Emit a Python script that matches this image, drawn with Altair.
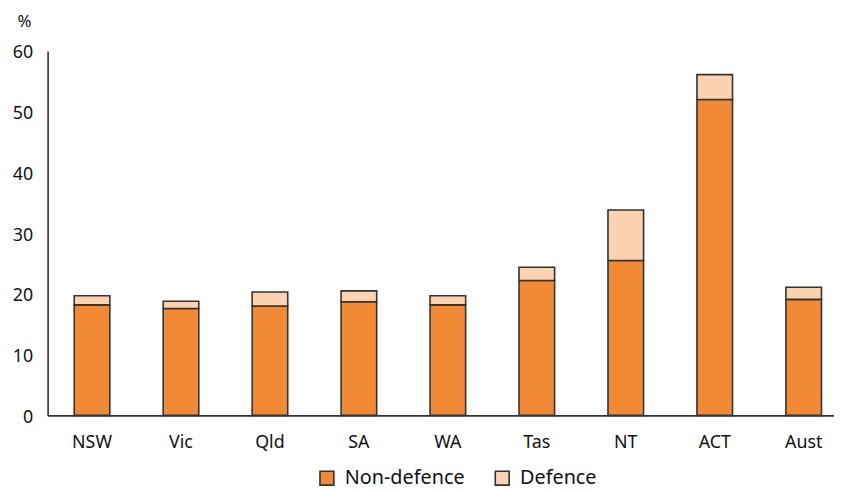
import altair as alt
import pandas as pd

states = ["NSW", "Vic", "Qld", "SA", "WA", "Tas", "NT", "ACT", "Aust"]
non_defence = [18.2, 17.6, 18.0, 18.7, 18.2, 22.2, 25.5, 52.0, 19.1]
defence = [1.5, 1.2, 2.3, 1.8, 1.5, 2.2, 8.3, 4.1, 2.0]
series = ["Non-defence", "Defence"]
colors = ["#F28A35", "#FCD3B0"]

rows = []
for s, nd, d in zip(states, non_defence, defence):
    rows.append({"state": s, "series": "Non-defence", "value": nd, "ord": 0})
    rows.append({"state": s, "series": "Defence", "value": d, "ord": 1})
df = pd.DataFrame(rows)

FONT = "Noto Sans"
TXT = "#111111"

chart = alt.Chart(df).mark_bar(stroke="#333333", strokeWidth=1.6).encode(
    x=alt.X("state:N", sort=states,
            scale=alt.Scale(paddingInner=0.6, paddingOuter=0.22, align=0.68, round=False),
            axis=alt.Axis(title=None, labelAngle=0, ticks=False, domainColor="#333333",
                          domainWidth=1.6, labelPadding=18, labelFontSize=18,
                          labelColor=TXT, labelFont=FONT)),
    y=alt.Y("value:Q", stack="zero",
            scale=alt.Scale(domain=[0, 60], nice=False),
            axis=alt.Axis(values=[0, 10, 20, 30, 40, 50, 60], grid=False, ticks=False,
                          domainColor="#333333", domainWidth=1.6, labelPadding=15,
                          labelOffset=2,
                          labelFontSize=18, labelColor=TXT, labelFont=FONT,
                          title="%", titleAngle=0, titleAlign="left", titleBaseline="alphabetic",
                          titleX=-31, titleY=-25, titleFontSize=17, titleFontWeight="normal",
                          titleFont=FONT, titleColor=TXT)),
    color=alt.Color("series:N", sort=series,
                    scale=alt.Scale(domain=series, range=colors),
                    legend=alt.Legend(title=None, orient="none", direction="horizontal",
                                      legendX=272, legendY=421,
                                      symbolType="square", symbolSize=196,
                                      symbolStrokeColor="#333333", symbolStrokeWidth=1.6,
                                      labelFontSize=20, labelFont=FONT, labelColor=TXT,
                                      columnPadding=26, labelOffset=8)),
    order=alt.Order("ord:Q", sort="ascending"),
).properties(
    width=794, height=368,
    autosize=alt.AutoSizeParams(type="none"),
    padding={"left": 40, "top": 41, "right": 0, "bottom": 74},
).configure_view(stroke=None)

chart.save("out.html", embed_options={"renderer": "svg", "actions": False})
